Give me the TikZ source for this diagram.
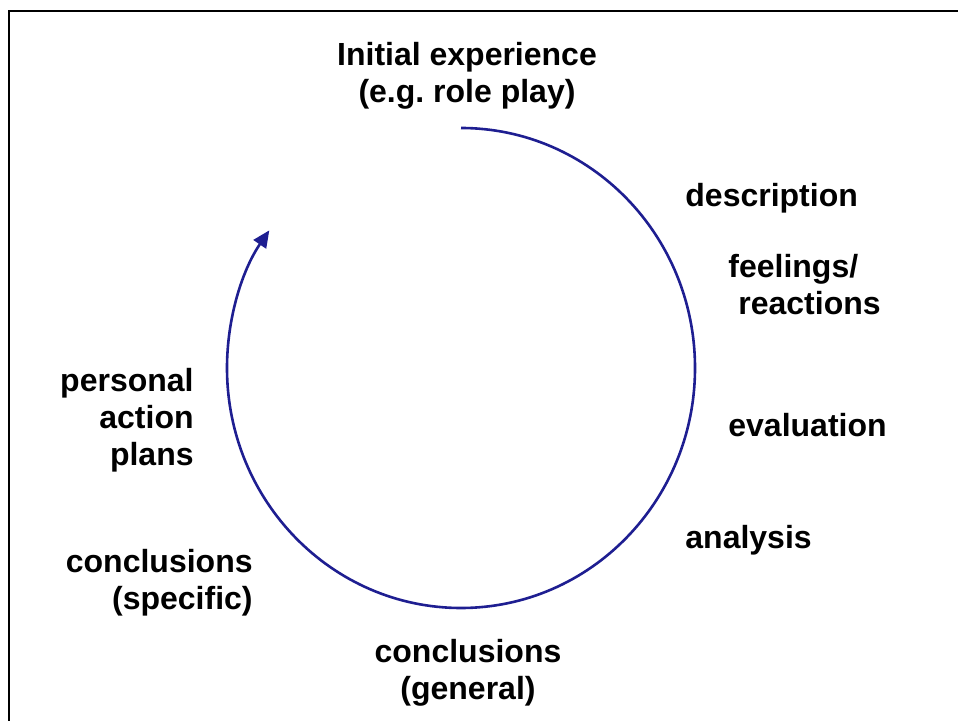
\documentclass[tikz,border=0pt]{standalone}
\usepackage{fontspec}
\setmainfont{Liberation Sans}
\usepackage{xcolor}
\usetikzlibrary{arrows.meta}
\definecolor{cycleblue}{RGB}{30,30,145}

\begin{document}
\begin{tikzpicture}[x=0.5pt,y=0.5pt,
 declare function={cx=461;cy=-368;rx=234;ry=240;},
 stage/.style={font=\fontsize{16}{18.5}\selectfont\bfseries\frenchspacing,inner sep=0pt}]
\useasboundingbox (0,0) rectangle (958,-721);
\draw[line width=1.2pt] (9,-721) -- (9,-11) -- (958,-11);
\begin{scope}
 \coordinate (top) at (cx,cy+ry);
 \draw[-{Triangle[length=8.5pt,width=7.5pt]},line width=1.3pt,cycleblue] (top)
  arc[start angle=90,end angle=-215,x radius=rx,y radius=ry];
\end{scope}
% base = baseline of the last line
\node[stage,anchor=base,align=center] (init) at (467,-103) {Initial experience\\(e.g. role play)};
\node[stage,anchor=base west] (desc) at (685,-207) {description};
\node[stage,anchor=base west,align=left] (feel) at (728,-315) {feelings/\\\hspace*{5pt}reactions};
\node[stage,anchor=base west] (eval) at (728,-437) {evaluation};
\node[stage,anchor=base west] (anal) at (685,-548) {analysis};
\node[stage,anchor=base,align=center] (gen) at (468,-699) {conclusions\\(general)};
\node[stage,anchor=base east,align=right] (spec) at (253,-609) {conclusions\\(specific)};
\node[stage,anchor=base east,align=right] (plan) at (194,-466) {personal\\action\\plans};
\end{tikzpicture}
\end{document}
